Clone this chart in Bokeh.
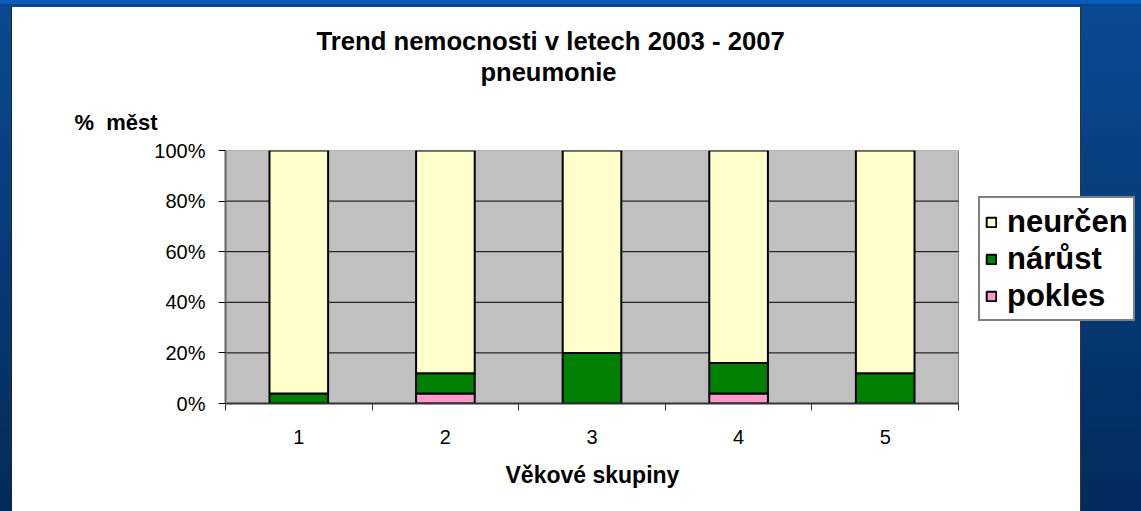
from bokeh.plotting import figure
from bokeh.models import (ColumnDataSource, Range1d, FixedTicker, Legend, LegendItem,
                          Title, CustomJSTickFormatter)
from bokeh.embed import file_html
from bokeh.resources import INLINE

# ---- data ----
groups = [1, 2, 3, 4, 5]
group_labels = ["1", "2", "3", "4", "5"]
pokles = [0, 4, 0, 4, 0]
narust = [4, 8, 20, 12, 12]
neurcen = [96, 88, 80, 84, 88]
series_names = ["pokles", "nárůst", "neurčen"]
series_colors = ["#FF99CC", "#008000", "#FFFFCC"]
y_ticks = [0, 20, 40, 60, 80, 100]
title_line1 = "Trend nemocnosti v letech 2003 - 2007"
title_line2 = "pneumonie"
y_title = "%\u00a0 měst"
x_title = "Věkové skupiny"

FONT = "Liberation Sans"

# layout (pixels)
W, H = 1141, 511
LEFT, TOP, BOTTOM = 225, 150, 108
PLOT_W = 733          # width of the grey category area
x_lo, x_hi = groups[0] - 0.5, groups[-1] + 0.5
px_per_unit = PLOT_W / (x_hi - x_lo)
x_end = x_lo + (W - LEFT) / px_per_unit   # frame extends to the right edge (legend lives there)

source = ColumnDataSource(dict(x=groups, pokles=pokles, narust=narust, neurcen=neurcen))

p = figure(width=W, height=H, output_backend="svg", toolbar_location=None,
           x_range=Range1d(x_lo, x_end), y_range=Range1d(y_ticks[0], y_ticks[-1]),
           min_border_left=LEFT, min_border_top=TOP, min_border_right=0,
           min_border_bottom=BOTTOM)
p.title.visible = False
p.styles = {"background": (
    "linear-gradient(to bottom, #0b5ab8 0px, #0b5ab8 4px, #064690 4px, #064690 7px, transparent 7px), "
    "linear-gradient(to right, transparent 0px, transparent 11px, #222 11px, #222 12px, "
    "#ffffff 12px, #ffffff 1080px, #333 1080px, #333 1081px, transparent 1081px), "
    "linear-gradient(to bottom, #0a4a92, #022b5c)")}
p.border_fill_alpha = 0
p.background_fill_alpha = 0
p.outline_line_color = None

# grey plot area
p.quad(left=[x_lo], right=[x_hi], bottom=[y_ticks[0]], top=[y_ticks[-1]],
       fill_color="#C0C0C0", line_color="#808080", line_width=1)
# horizontal grid lines
p.segment(x0=[x_lo] * (len(y_ticks) - 2), x1=[x_hi] * (len(y_ticks) - 2),
          y0=y_ticks[1:-1], y1=y_ticks[1:-1], line_color="black", line_width=1)

renderers = p.vbar_stack(["pokles", "narust", "neurcen"], x="x", width=0.4,
                         color=series_colors, line_color="black", line_width=2,
                         source=source)

# axes
p.yaxis.ticker = FixedTicker(ticks=y_ticks)
p.yaxis.formatter = CustomJSTickFormatter(code="return tick + '%';")
p.yaxis.major_label_text_font = FONT
p.yaxis.major_label_text_font_size = "20px"
p.yaxis.major_label_text_color = "black"
p.yaxis.major_tick_out = 7
p.yaxis.major_tick_in = 0
p.yaxis.major_tick_line_color = "black"
p.yaxis.minor_tick_line_color = None
p.yaxis.axis_line_color = "#666666"
p.yaxis.axis_line_width = 2
p.yaxis.major_label_standoff = 13

p.xaxis.bounds = (x_lo, x_hi)
p.xaxis.ticker = FixedTicker(ticks=groups, minor_ticks=[g - 0.5 for g in groups] + [x_hi])
p.xaxis.major_label_overrides = {g: l for g, l in zip(groups, group_labels)}
p.xaxis.major_tick_out = 0
p.xaxis.major_tick_in = 0
p.xaxis.minor_tick_out = 7
p.xaxis.minor_tick_in = 0
p.xaxis.minor_tick_line_color = "#333333"
p.xaxis.minor_tick_line_width = 1
p.xaxis.axis_line_color = "#333333"
p.xaxis.axis_line_width = 2
p.xaxis.major_label_text_font = FONT
p.xaxis.major_label_text_font_size = "20px"
p.xaxis.major_label_text_color = "black"
p.xaxis.major_label_standoff = 19

p.grid.grid_line_color = None

# titles above (first added = nearest the frame)
p.add_layout(Title(text=y_title, align="left", offset=-151, standoff=32,
                   vertical_align="bottom", text_font=FONT, text_font_size="22px",
                   text_font_style="bold", text_color="black"), "above")
p.add_layout(Title(text=title_line2, align="left", offset=255, standoff=7,
                   vertical_align="top", text_font=FONT, text_font_size="25.5px",
                   text_font_style="bold", text_color="black"), "above")
p.add_layout(Title(text=title_line1, align="left", offset=91, standoff=0,
                   vertical_align="bottom", text_font=FONT, text_font_size="25.7px",
                   text_font_style="bold", text_color="black"), "above")
# x axis title, centred under the grey area
p.add_layout(Title(text=x_title, align="left", offset=280, standoff=30,
                   vertical_align="top", text_font=FONT, text_font_size="23px",
                   text_font_style="bold", text_color="black"), "below")

# legend (inside the wide frame, right of the grey area)
items = [LegendItem(label=series_names[i], renderers=[renderers[i]]) for i in (2, 1, 0)]
legend = Legend(items=items, location=(753, 82), orientation="vertical",
                label_text_font=FONT, label_text_font_size="31px",
                label_text_font_style="bold", label_text_color="black",
                glyph_width=12, glyph_height=12, label_standoff=10, padding=5,
                label_height=37, spacing=0, margin=0,
                border_line_color="black", border_line_width=2,
                background_fill_color="white", background_fill_alpha=1)
p.add_layout(legend)

open("out.html", "w").write(file_html(p, INLINE))
